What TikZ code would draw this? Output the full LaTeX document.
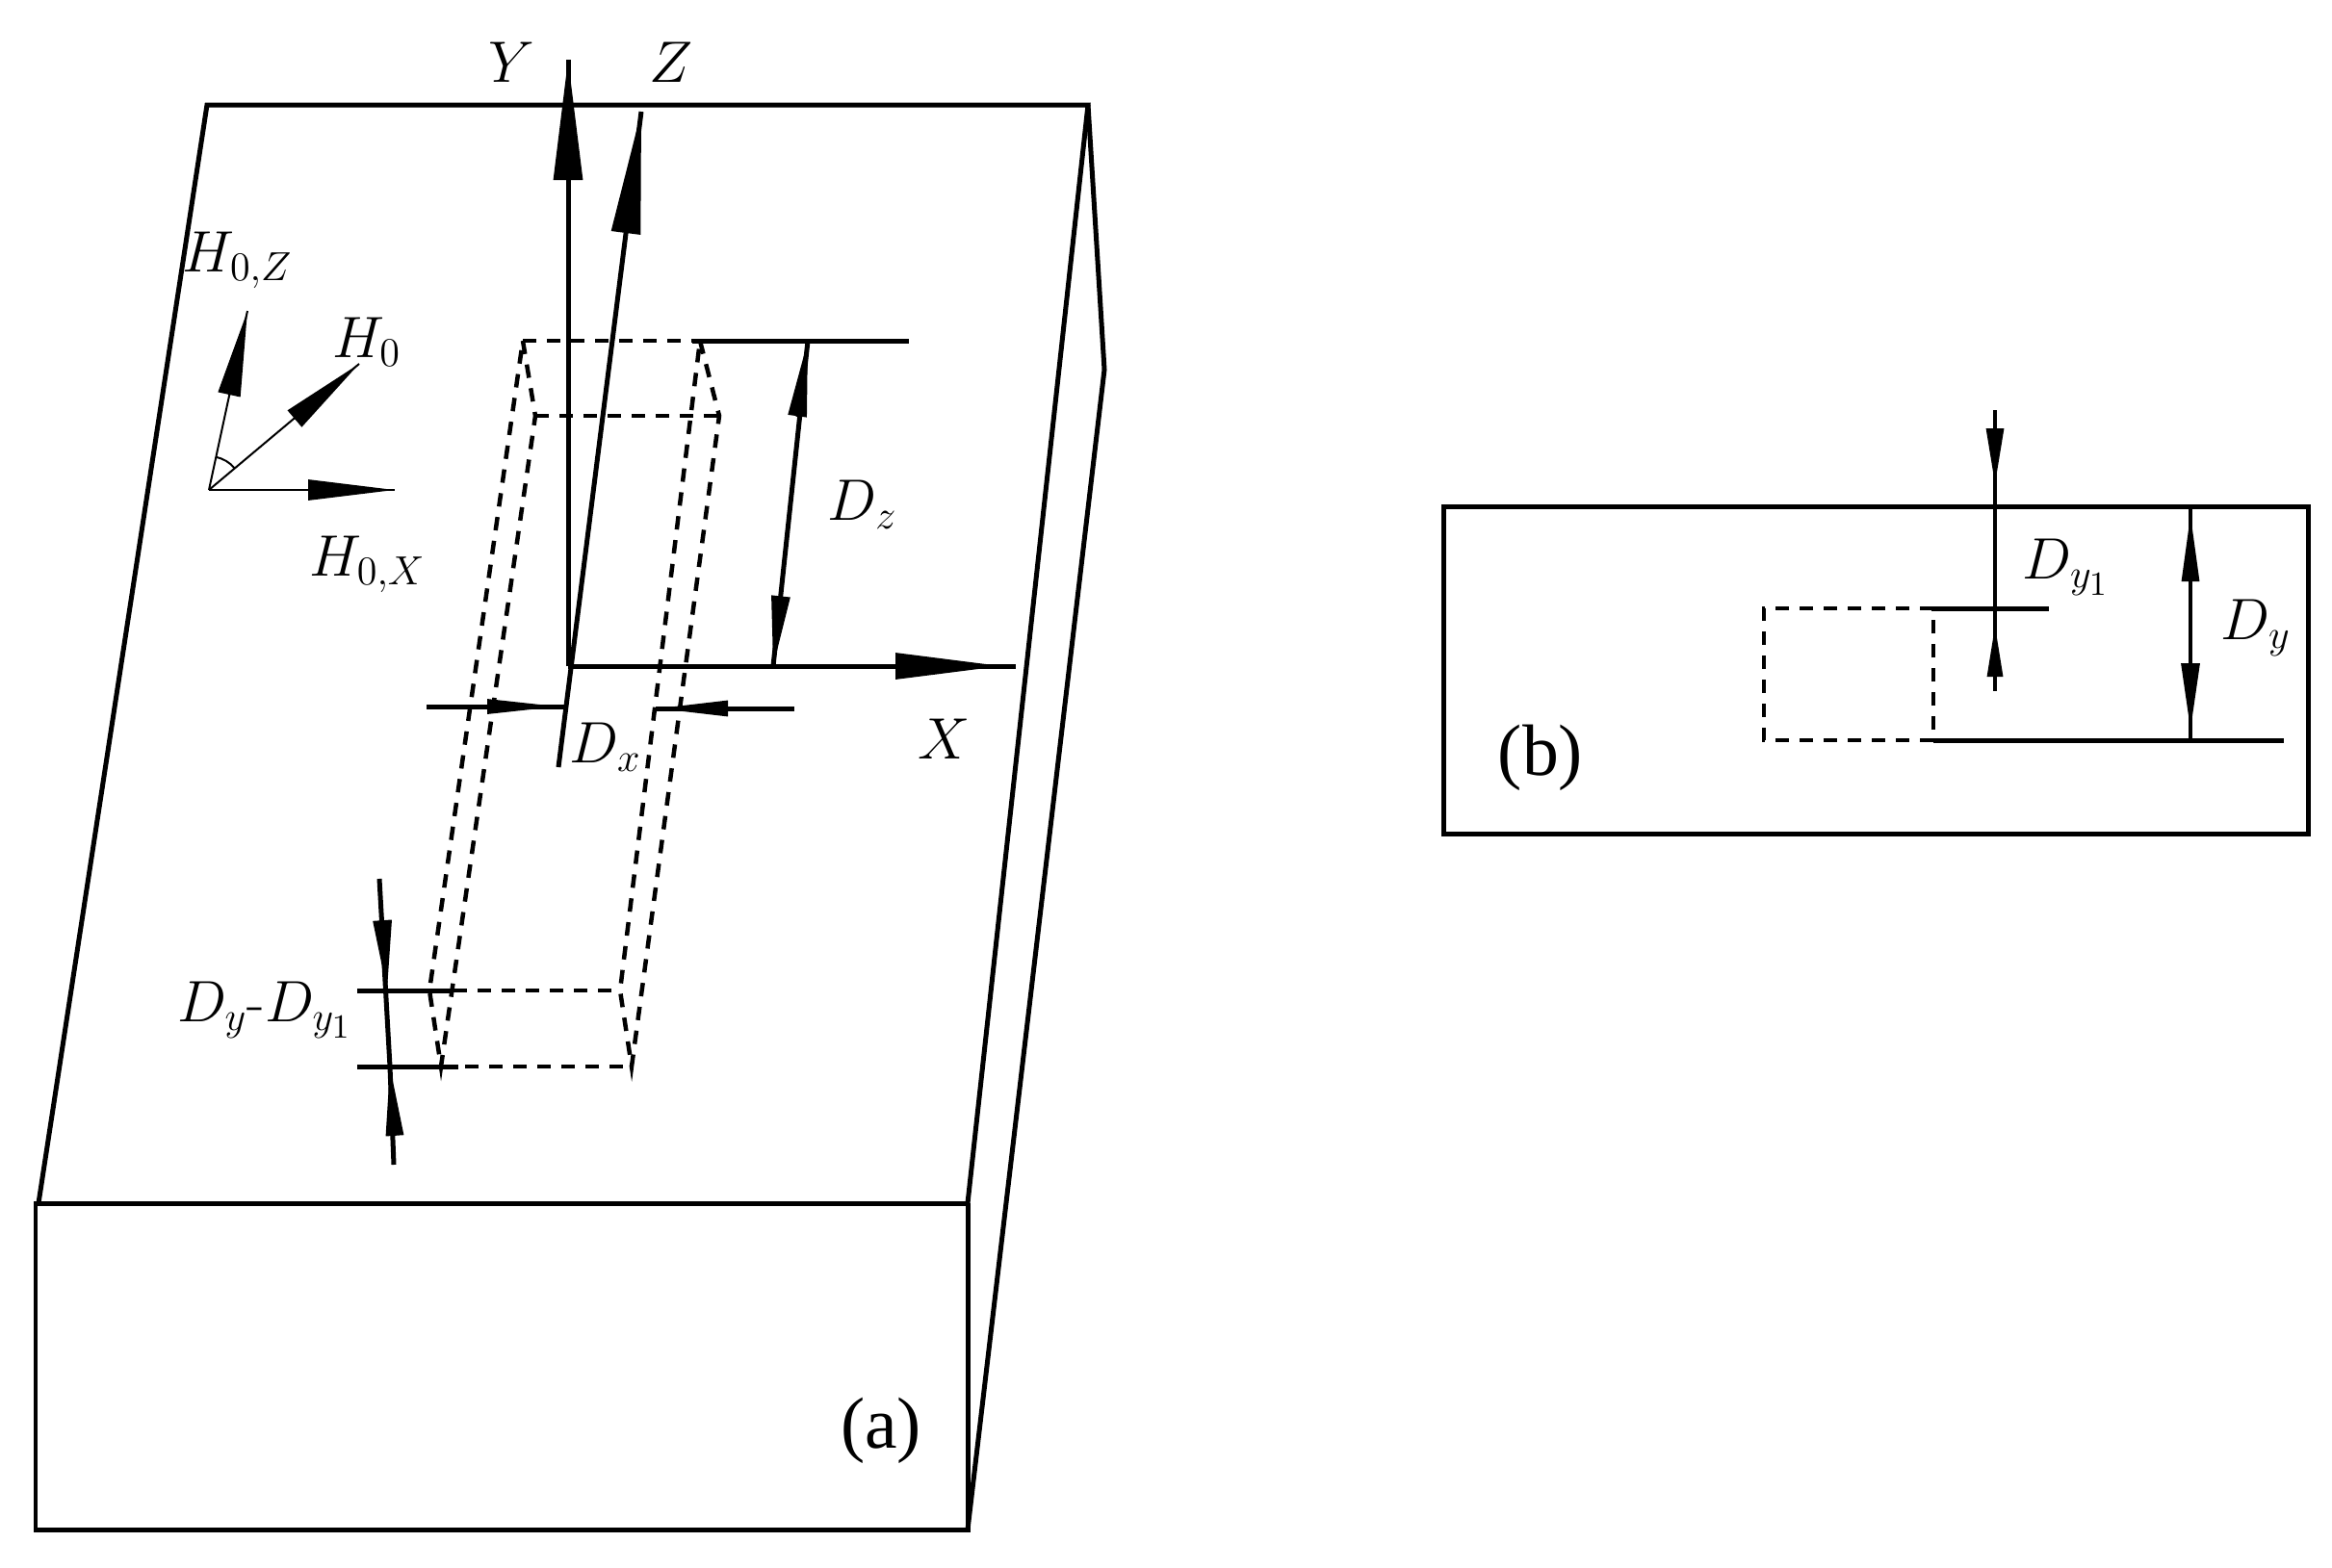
\documentclass[tikz,border=0pt]{standalone}
\usepackage{amsmath}
\usepackage{fontspec}
\newfontfamily\panelfont{Liberation Serif}
\usetikzlibrary{arrows.meta}

\tikzset{
  edge/.style    = {line width=.5mm},
  thinline/.style= {line width=.2mm},
  innerline/.style= {line width=.35mm},
  hidden/.style  = {line width=.45mm, dash pattern=on 1.4mm off 1.1mm},
  head/.style 2 args = {-{Triangle[length=#1,width=#2]}, line width=.3mm},
  quantity/.style= {font=\fontsize{17.28}{20}\selectfont, inner sep=0pt},
  panel/.style   = {font=\panelfont\fontsize{21.5}{24}\selectfont, inner sep=0pt}
}

\begin{document}
\begin{tikzpicture}
  \useasboundingbox (0,0) rectangle (24.22,-16.28);

  % plate
  \coordinate (ptl) at ( 2.15, -1.09);
  \coordinate (ptr) at (11.30, -1.09);
  \coordinate (pfk) at ( 0.40,-12.50);
  \coordinate (pfl) at ( 0.37,-12.50);
  \coordinate (pfr) at (10.05,-12.50);
  \coordinate (pbl) at ( 0.37,-15.89);
  \coordinate (pbr) at (10.05,-15.89);
  \coordinate (prm) at (11.47, -3.84);
  \draw[edge] (pfk) -- (ptl) -- (ptr) -- (pfr);
  \draw[edge] (pfr) -- (pfl) -- (pbl) -- (pbr) -- (pfr);
  \draw[edge] (ptr) -- (prm) -- (pbr);

  % axes
  \coordinate (o)     at ( 5.90, -6.92);
  \coordinate (ytip)  at ( 5.90, -0.62);
  \coordinate (ybase) at ( 5.90, -1.87);
  \coordinate (zlow)  at ( 5.80, -7.97);
  \coordinate (ztip)  at ( 6.66, -1.16);
  \coordinate (xend)  at (10.55, -6.92);
  \coordinate (xbase) at ( 9.30, -6.92);
  \coordinate (xtip)  at (10.40, -6.92);
  \draw[edge] (o) -- (ytip);
  \draw[edge] (zlow) -- (ztip);
  \draw[edge] (o) -- (xend);
  \draw[head={1.25cm}{.30cm}] (ybase) -- (ytip);
  \draw[head={1.27cm}{.30cm}] (ztip)+(-.16,-1.26) -- (ztip);
  \draw[head={1.10cm}{.27cm}] (xbase) -- (xtip);

  % field components
  \coordinate (hO) at (2.17,-5.09);
  \coordinate (hz) at (2.57,-3.23);
  \coordinate (hd) at (3.73,-3.78);
  \coordinate (hx) at (4.10,-5.09);
  \draw[thinline] (hO) -- (hz);
  \draw[thinline] (hO) -- (hd);
  \draw[thinline] (hO) -- (hx);
  \draw[head={.89cm}{.23cm}] (2.38,-4.10) -- (hz);
  \draw[head={.88cm}{.22cm}] (3.06,-4.35) -- (hd);
  \draw[head={.90cm}{.21cm}] (3.20,-5.09) -- (hx);
  \draw[thinline] (hO) ++(78:.35) arc (78:40:.35);

  % channel
  \coordinate (a1) at ( 5.43, -3.54);
  \coordinate (c1) at ( 7.27, -3.54);
  \coordinate (b1) at ( 5.56, -4.32);
  \coordinate (d1) at ( 7.47, -4.32);
  \coordinate (a2) at ( 4.46,-10.29);
  \coordinate (c2) at ( 6.44,-10.29);
  \coordinate (b2) at ( 4.58,-11.08);
  \coordinate (d2) at ( 6.56,-11.08);
  \draw[hidden] (a1) -- (c1);
  \draw[hidden] (b1) -- (d1);
  \draw[hidden] (a1) -- (b1) -- (b2) -- (a2) -- cycle;
  \draw[hidden] (c1) -- (d1) -- (d2) -- (c2) -- cycle;
  \draw[hidden] (a2) -- (c2);
  \draw[hidden] (b2) -- (d2);

  % D_z
  \coordinate (zs)  at ( 7.19, -3.54);
  \coordinate (ze)  at ( 9.44, -3.54);
  \coordinate (dzt) at ( 8.39, -3.54);
  \coordinate (dzb) at ( 8.03, -6.92);
  \draw[edge] (zs) -- (ze);
  \draw[edge] (dzt) -- (dzb);
  \draw[head={.79cm}{.19cm}] (8.28,-4.33) -- (dzt);
  \draw[head={.73cm}{.19cm}] (8.11,-6.19) -- (dzb);

  % D_x
  \coordinate (xl1) at ( 4.43, -7.34);
  \coordinate (xl2) at ( 5.87, -7.34);
  \coordinate (xr1) at ( 6.81, -7.36);
  \coordinate (xr2) at ( 8.25, -7.36);
  \draw[edge] (xl1) -- (xl2);
  \draw[edge] (xr1) -- (xr2);
  \draw[head={.74cm}{.15cm}] (5.06,-7.34) -- (5.80,-7.34);
  \draw[head={.73cm}{.16cm}] (7.56,-7.36) -- (6.83,-7.36);

  % D_y-D_y1
  \coordinate (u1) at ( 3.71,-10.29);
  \coordinate (u2) at ( 4.69,-10.29);
  \coordinate (l1) at ( 3.71,-11.08);
  \coordinate (l2) at ( 4.76,-11.08);
  \coordinate (v1) at ( 3.94, -9.13);
  \coordinate (v2) at ( 4.05,-11.08);
  \coordinate (v3) at ( 4.09,-12.10);
  \draw[edge] (u1) -- (u2);
  \draw[edge] (l1) -- (l2);
  \draw[edge] (v1) -- (v2) -- (v3);
  \draw[head={.73cm}{.19cm}] (3.97,-9.55) -- (4.02,-10.29);
  \draw[head={.72cm}{.18cm}] (4.10,-11.80) -- (4.05,-11.08);

  % panel b
  \coordinate (bnw) at (14.99, -5.26);
  \coordinate (bse) at (23.97, -8.66);
  \draw[edge] (bnw) rectangle (bse);
  \coordinate (rnw) at (18.32, -6.32);
  \coordinate (rne) at (20.08, -6.32);
  \coordinate (rse) at (20.08, -7.69);
  \coordinate (rsw) at (18.32, -7.69);
  \draw[hidden] (rne) -- (rnw) -- (rsw) -- (rse) -- cycle;
  \coordinate (t1) at (20.06, -6.32);
  \coordinate (t2) at (21.28, -6.32);
  \coordinate (t3) at (23.72, -7.69);
  \draw[edge] (t1) -- (t2);
  \draw[edge] (rse) -- (t3);

  \coordinate (w1) at (20.72, -4.26);
  \coordinate (w2) at (20.72, -7.18);
  \coordinate (w3) at (22.75, -5.26);
  \coordinate (w4) at (22.75, -7.69);
  \draw[innerline] (w1) -- (w2);
  \draw[innerline] (w3) -- (w4);
  \draw[head={.58cm}{.18cm}] (20.72,-4.45) -- (20.72,-5.03);
  \draw[head={.53cm}{.16cm}] (20.72,-7.03) -- (20.72,-6.50);
  \draw[head={.69cm}{.18cm}] (22.75,-6.04) -- (22.75,-5.35);
  \draw[head={.69cm}{.19cm}] (22.75,-6.89) -- (22.75,-7.58);

  % labels
  \node[quantity] (ly)   at ( 5.31, -0.65) {$Y$};
  \node[quantity] (lz)   at ( 6.97, -0.65) {$Z$};
  \node[quantity] (lx)   at ( 9.81, -7.68) {$X$};
  \node[quantity] (lhz)  at ( 2.47, -2.70) {$H_{0,Z}$};
  \node[quantity] (lh)   at ( 3.81, -3.55) {$H_{0}$};
  \node[quantity] (lhx)  at ( 3.82, -5.86) {$H_{0,X}$};
  \node[quantity] (ldz)  at ( 8.96, -5.24) {$D_{z}$};
  \node[quantity] (ldx)  at ( 6.29, -7.76) {$D_{x}$};
  \node[quantity] (ldd)  at ( 2.75,-10.49) {$D_{y}$-$D_{y_{1}}$};
  \node[quantity] (ldy1) at (21.46, -5.89) {$D_{y_{1}}$};
  \node[quantity] (ldy)  at (23.43, -6.52) {$D_{y}$};
  \node[panel]    (pa)   at ( 9.15,-14.86) {(a)};
  \node[panel]    (pb)   at (16.00, -7.87) {(b)};
\end{tikzpicture}
\end{document}
